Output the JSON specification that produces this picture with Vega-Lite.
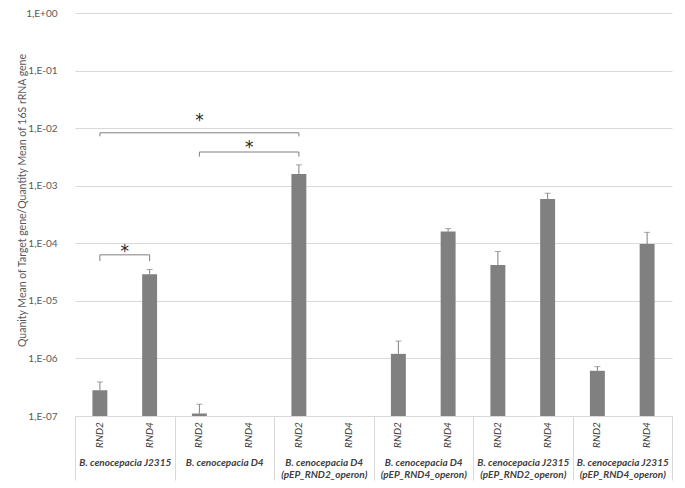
{
  "$schema": "https://vega.github.io/schema/vega-lite/v6.json",
  "width": 597,
  "height": 403,
  "autosize": {"type": "none"},
  "padding": {"left": 75, "top": 13, "right": 13, "bottom": 72},
  "background": "white",
  "config": {"font": "Lato", "view": {"stroke": null}},
  "datasets": {
    "bars": [
      {"group": "B. cenocepacia J2315", "gene": "RND2", "value": 2.8e-7, "err": 3.9e-7},
      {"group": "B. cenocepacia J2315", "gene": "RND4", "value": 2.9e-5, "err": 3.5e-5},
      {"group": "B. cenocepacia D4", "gene": "RND2", "value": 1.1e-7, "err": 1.6e-7},
      {"group": "B. cenocepacia D4", "gene": "RND4", "value": null, "err": null},
      {"group": "B. cenocepacia D4 (pEP_RND2_operon)", "gene": "RND2", "value": 1.6e-3, "err": 2.3e-3},
      {"group": "B. cenocepacia D4 (pEP_RND2_operon)", "gene": "RND4", "value": null, "err": null},
      {"group": "B. cenocepacia D4 (pEP_RND4_operon)", "gene": "RND2", "value": 1.2e-6, "err": 2.0e-6},
      {"group": "B. cenocepacia D4 (pEP_RND4_operon)", "gene": "RND4", "value": 1.6e-4, "err": 1.8e-4},
      {"group": "B. cenocepacia J2315 (pEP_RND2_operon)", "gene": "RND2", "value": 4.2e-5, "err": 7.2e-5},
      {"group": "B. cenocepacia J2315 (pEP_RND2_operon)", "gene": "RND4", "value": 5.9e-4, "err": 7.4e-4},
      {"group": "B. cenocepacia J2315 (pEP_RND4_operon)", "gene": "RND2", "value": 6.1e-7, "err": 7.2e-7},
      {"group": "B. cenocepacia J2315 (pEP_RND4_operon)", "gene": "RND4", "value": 9.7e-5, "err": 1.55e-4}
    ],
    "brackets": [
      {"bracket": 1, "ord": 1, "group": "B. cenocepacia J2315", "gene": "RND2", "value": 4.9e-5},
      {"bracket": 1, "ord": 2, "group": "B. cenocepacia J2315", "gene": "RND2", "value": 6.3e-5},
      {"bracket": 1, "ord": 3, "group": "B. cenocepacia J2315", "gene": "RND4", "value": 6.3e-5},
      {"bracket": 1, "ord": 4, "group": "B. cenocepacia J2315", "gene": "RND4", "value": 4.9e-5},
      {"bracket": 2, "ord": 1, "group": "B. cenocepacia J2315", "gene": "RND2", "value": 7.2e-3},
      {"bracket": 2, "ord": 2, "group": "B. cenocepacia J2315", "gene": "RND2", "value": 8.3e-3},
      {"bracket": 2, "ord": 3, "group": "B. cenocepacia D4 (pEP_RND2_operon)", "gene": "RND2", "value": 8.3e-3},
      {"bracket": 2, "ord": 4, "group": "B. cenocepacia D4 (pEP_RND2_operon)", "gene": "RND2", "value": 7.2e-3},
      {"bracket": 3, "ord": 1, "group": "B. cenocepacia D4", "gene": "RND2", "value": 3.2e-3},
      {"bracket": 3, "ord": 2, "group": "B. cenocepacia D4", "gene": "RND2", "value": 3.85e-3},
      {"bracket": 3, "ord": 3, "group": "B. cenocepacia D4 (pEP_RND2_operon)", "gene": "RND2", "value": 3.85e-3},
      {"bracket": 3, "ord": 4, "group": "B. cenocepacia D4 (pEP_RND2_operon)", "gene": "RND2", "value": 3.2e-3}
    ],
    "starsGroup": [
      {"group": "B. cenocepacia J2315", "value": 8.3e-5, "label": "*"}
    ],
    "starsBar": [
      {"group": "B. cenocepacia D4", "gene": "RND2", "value": 1.56e-2, "label": "*"},
      {"group": "B. cenocepacia D4", "gene": "RND4", "value": 5.3e-3, "label": "*"}
    ]
  },
  "encoding": {
    "x": {
      "field": "group",
      "type": "nominal",
      "scale": {
        "domain": [
          "B. cenocepacia J2315",
          "B. cenocepacia D4",
          "B. cenocepacia D4 (pEP_RND2_operon)",
          "B. cenocepacia D4 (pEP_RND4_operon)",
          "B. cenocepacia J2315 (pEP_RND2_operon)",
          "B. cenocepacia J2315 (pEP_RND4_operon)"
        ],
        "paddingInner": 0,
        "paddingOuter": 0
      },
      "axis": {
        "title": null,
        "labelAngle": 0,
        "labelAlign": "center",
        "labelBaseline": "top",
        "labelExpr": "indexof(datum.label, ' (') > 0 ? [substring(datum.label, 0, indexof(datum.label, ' (')), substring(datum.label, indexof(datum.label, ' (') + 1)] : datum.label",
        "labelFontSize": 10,
        "labelFontStyle": "italic",
        "labelFontWeight": "bold",
        "labelColor": "#404040",
        "labelLineHeight": 12.5,
        "labelOverlap": false,
        "labelBound": false,
        "labelPadding": -23,
        "tickBand": "extent",
        "tickSize": 64,
        "tickColor": "#d9d9d9",
        "domainColor": "#d9d9d9",
        "grid": false
      }
    }
  },
  "layer": [
    {
      "data": {"name": "bars"},
      "mark": {"type": "bar", "color": "#808080"},
      "encoding": {
        "xOffset": {"field": "gene", "type": "nominal", "scale": {"domain": ["RND2", "RND4"], "paddingInner": 0.7, "paddingOuter": 0.35}},
        "y": {
          "field": "value",
          "type": "quantitative",
          "title": "Quanity Mean of Target gene/Quantity Mean of 16S rRNA gene",
          "scale": {"type": "log", "domain": [1e-7, 1]},
          "axis": {
            "values": [1e-7, 1e-6, 1e-5, 1e-4, 1e-3, 1e-2, 1e-1, 1],
            "labelExpr": "datum.value >= 0.5 ? '1,E+00' : '1,E-0' + round(-log(datum.value) / LN10)",
            "labelFontSize": 10,
            "labelColor": "#595959",
            "labelPadding": 18,
            "domain": false,
            "ticks": false,
            "grid": true,
            "gridColor": "#d9d9d9",
            "titleFontSize": 10.5,
            "titleFontWeight": "normal",
            "titleColor": "#595959",
            "titleX": -53,
            "titleY": 187,
            "titleBaseline": "middle",
            "titleAngle": -90
          }
        },
        "y2": {"datum": 1e-7}
      }
    },
    {
      "data": {"name": "bars"},
      "mark": {"type": "rule", "color": "#808080", "strokeWidth": 1},
      "encoding": {
        "xOffset": {"field": "gene", "type": "nominal"},
        "y": {"field": "value", "type": "quantitative", "title": "Quanity Mean of Target gene/Quantity Mean of 16S rRNA gene"},
        "y2": {"field": "err"}
      }
    },
    {
      "data": {"name": "bars"},
      "mark": {"type": "tick", "color": "#808080", "thickness": 1, "size": 6},
      "encoding": {
        "xOffset": {"field": "gene", "type": "nominal"},
        "y": {"field": "err", "type": "quantitative", "title": "Quanity Mean of Target gene/Quantity Mean of 16S rRNA gene"}
      }
    },
    {
      "data": {"name": "bars"},
      "mark": {"type": "text", "angle": 270, "align": "center", "baseline": "middle", "fontSize": 10, "fontStyle": "italic", "color": "#404040"},
      "encoding": {
        "xOffset": {"field": "gene", "type": "nominal"},
        "y": {"datum": 4.67e-8, "type": "quantitative"},
        "text": {"field": "gene"}
      }
    },
    {
      "data": {"name": "brackets"},
      "mark": {"type": "line", "color": "#7f7f7f", "strokeWidth": 1},
      "encoding": {
        "xOffset": {"field": "gene", "type": "nominal"},
        "y": {"field": "value", "type": "quantitative", "title": "Quanity Mean of Target gene/Quantity Mean of 16S rRNA gene"},
        "detail": {"field": "bracket"},
        "order": {"field": "ord"}
      }
    },
    {
      "data": {"name": "starsGroup"},
      "mark": {"type": "text", "font": "DejaVu Sans", "fontSize": 17, "baseline": "middle", "dy": 4, "color": "#262626"},
      "encoding": {
        "y": {"field": "value", "type": "quantitative", "title": "Quanity Mean of Target gene/Quantity Mean of 16S rRNA gene"},
        "text": {"field": "label"}
      }
    },
    {
      "data": {"name": "starsBar"},
      "mark": {"type": "text", "font": "DejaVu Sans", "fontSize": 17, "baseline": "middle", "dy": 4, "color": "#262626"},
      "encoding": {
        "xOffset": {"field": "gene", "type": "nominal"},
        "y": {"field": "value", "type": "quantitative", "title": "Quanity Mean of Target gene/Quantity Mean of 16S rRNA gene"},
        "text": {"field": "label"}
      }
    }
  ]
}
